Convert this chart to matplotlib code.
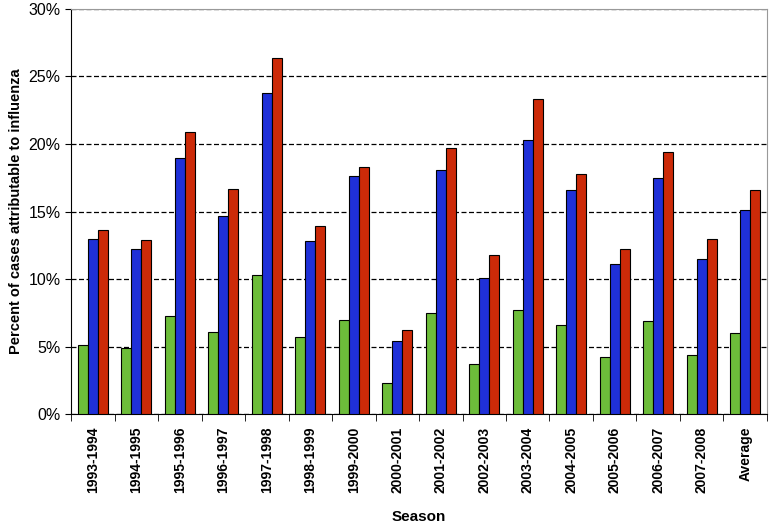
import numpy as np
import matplotlib.pyplot as plt
from matplotlib.ticker import FuncFormatter

plt.rcParams['font.family'] = ['Liberation Sans', 'DejaVu Sans']

# Temporadas e percentuais
seasons = ["1993-1994", "1994-1995", "1995-1996", "1996-1997", "1997-1998",
           "1998-1999", "1999-2000", "2000-2001", "2001-2002", "2002-2003",
           "2003-2004", "2004-2005", "2005-2006", "2006-2007", "2007-2008",
           "Average"]
green = [5.1, 4.9, 7.3, 6.1, 10.3, 5.7, 7.0, 2.3, 7.5, 3.7, 7.7, 6.6, 4.2, 6.9, 4.4, 6.0]
blue = [13.0, 12.2, 19.0, 14.7, 23.8, 12.8, 17.6, 5.4, 18.1, 10.1, 20.3, 16.6, 11.1, 17.5, 11.5, 15.1]
red = [13.6, 12.9, 20.9, 16.7, 26.4, 13.9, 18.3, 6.2, 19.7, 11.8, 23.3, 17.8, 12.2, 19.4, 13.0, 16.6]

fig = plt.figure(figsize=(7.72, 5.23), dpi=100)
ax = fig.add_axes([0.092, 0.208, 0.9015, 0.775])

x = np.arange(len(seasons))
w = 0.23
ax.bar(x - w, green, w, color="#6dbd3a", edgecolor="black", linewidth=0.8, zorder=3)
ax.bar(x, blue, w, color="#1f30d8", edgecolor="black", linewidth=0.8, zorder=3)
ax.bar(x + w, red, w, color="#cc2a08", edgecolor="black", linewidth=0.8, zorder=3)

ax.set_xlim(-0.5, len(seasons) - 0.5)
ax.set_ylim(0, 30)
ax.set_yticks(np.arange(0, 31, 5))
ax.yaxis.set_major_formatter(FuncFormatter(lambda v, p: f"{v:.0f}%"))
ax.yaxis.grid(True, linestyle=(0, (4, 2)), color="black", linewidth=0.9, zorder=0)

ax.set_xticks(x)
ax.set_xticklabels(seasons, rotation=90, fontweight="bold", fontsize=10)
ax.set_xticks(np.arange(-0.5, len(seasons)), minor=True)
ax.tick_params(axis="x", which="major", length=0, pad=9)
ax.tick_params(axis="x", which="minor", length=5, direction="out", color="black")
ax.tick_params(axis="y", labelsize=11.5, length=4, direction="out")

for s in ["top", "right"]:
    ax.spines[s].set_color("#999999")
ax.spines["left"].set_color("black")
ax.spines["bottom"].set_color("black")

ax.set_xlabel("Season", fontweight="bold", fontsize=11, labelpad=12)
ax.set_ylabel("Percent of cases attributable to influenza", fontweight="bold", fontsize=10.5)

plt.savefig("out.png", dpi=100)
